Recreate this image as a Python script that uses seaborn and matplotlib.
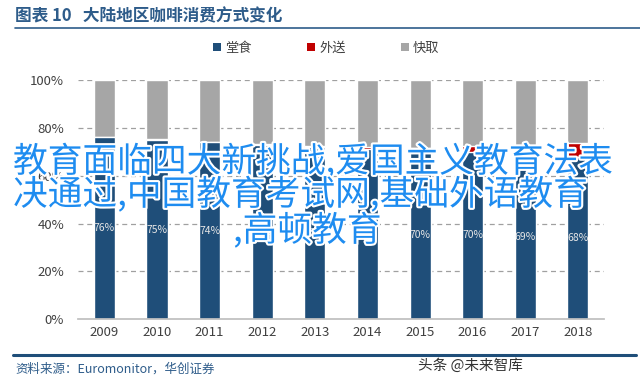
import matplotlib
matplotlib.use("Agg")
import matplotlib.pyplot as plt
import matplotlib.patheffects as pe
from matplotlib.lines import Line2D
from matplotlib.patches import Patch
import pandas as pd
import seaborn as sns

years = ["2009", "2010", "2011", "2012", "2013", "2014", "2015", "2016", "2017", "2018"]
dine_in = [76, 75, 74, 73, 72, 71, 70, 70, 69, 68]
delivery = [0.1, 0.2, 0.2, 0.4, 0.6, 1.0, 1.5, 2.5, 3.5, 5.5]
takeaway = [round(100 - a - b, 1) for a, b in zip(dine_in, delivery)]
series_names = ["堂食", "外送", "快取"]
colors = ["#1F4E79", "#C00000", "#A6A6A6"]
overlay_lines = ["教育面临四大新挑战,爱国主义教育法表", "决通过,中国教育考试网,基础外语教育", ",高顿教育"]

sns.set_theme(style="white")
plt.rcParams["font.family"] = ["Noto Sans CJK SC", "DejaVu Sans"]

df = pd.DataFrame({"year": years, "dine": dine_in, "deliv": delivery, "take": takeaway})
df["top"] = df["dine"] + df["deliv"] + df["take"]
df["mid"] = df["dine"] + df["deliv"]

fig = plt.figure(figsize=(6.4, 3.85), dpi=100)
ax = fig.add_axes([0.122, 0.171, 0.822, 0.621])

# stacked bars drawn as overlapping cumulative totals
for col, c in [("top", colors[2]), ("mid", colors[1]), ("dine", colors[0])]:
    sns.barplot(data=df, x="year", y=col, color=c, width=0.4, saturation=1, ax=ax, zorder=3)

for i, v in enumerate(dine_in):
    ax.text(i, v / 2, f"{v}%", ha="center", va="center", fontsize=7.5, color="#E6E6E6", zorder=5)

ax.set_ylim(0, 100)
ax.set_xlim(-0.5, len(years) - 0.5)
ax.set_yticks(range(0, 101, 20))
ax.set_yticklabels([f"{t}%" for t in range(0, 101, 20)], fontsize=9.5, color="#404040")
ax.tick_params(axis="x", labelsize=9.5, labelcolor="#404040", length=0, pad=5)
ax.tick_params(axis="y", length=0, pad=10)
ax.set_xlabel("")
ax.set_ylabel("")
for t in [20, 40, 60, 80, 100]:
    ax.axhline(t, color="#A0A0A0", lw=0.9, ls=(0, (4, 3)), zorder=1)
for s in ["top", "right", "left"]:
    ax.spines[s].set_visible(False)
ax.spines["bottom"].set_color("#BFBFBF")
ax.spines["bottom"].set_zorder(4)

handles = [Patch(facecolor=c, edgecolor="none") for c in colors]
fig.legend(handles, series_names, loc="center", bbox_to_anchor=(0.51, 0.875), ncol=3, frameon=False,
           fontsize=9.5, handlelength=0.6, handleheight=0.6, handletextpad=0.3, columnspacing=4.2,
           labelcolor="#404040")

# header and footer
fig.text(15 / 640, 1 - 16 / 385, "图表 10   大陆地区咖啡消费方式变化", fontsize=12, fontweight="bold",
         color="#2E5C8A", va="center", ha="left")
fig.add_artist(Line2D([15 / 640, 1.0], [1 - 28 / 385] * 2, color="#2E5C8A", lw=1.2))
fig.add_artist(Line2D([13 / 640, 636 / 640], [1 - 355 / 385] * 2, color="#1F4E79", lw=2.2))
fig.text(15 / 640, 1 - 369 / 385, "资料来源：Euromonitor，华创证券", fontsize=9, style="italic",
         color="#2E5C8A", va="center", ha="left")
fig.text(418 / 640, 1 - 366 / 385, "头条 @未来智库", fontsize=10.5, color="#333333", va="center", ha="left")

# overlay text
stroke = [pe.withStroke(linewidth=3, foreground="white")]
for (x, y), line in zip([(13, 162), (13, 195), (233, 231)], overlay_lines):
    fig.text(x / 640, 1 - y / 385, line, fontsize=25, fontweight="medium", color="#1E8CF0",
             va="center", ha="left", path_effects=stroke, zorder=10)

fig.savefig("out.png", dpi=100)
